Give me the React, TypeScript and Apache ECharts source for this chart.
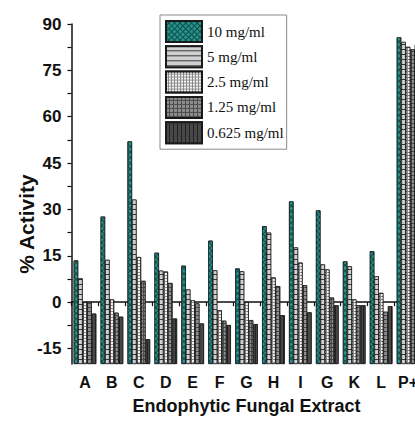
import React, { useEffect, useRef } from 'react';
import * as echarts from 'echarts';

const categories = ['A', 'B', 'C', 'D', 'E', 'F', 'G', 'H', 'I', 'G', 'K', 'L', 'P+'];
const seriesNames = ['10 mg/ml', '5 mg/ml', '2.5 mg/ml', '1.25 mg/ml', '0.625 mg/ml'];
const conc10 = [13.5, 27.7, 52.0, 16.0, 11.8, 19.9, 10.9, 24.6, 32.6, 29.7, 13.2, 16.5, 85.7];
const conc5 = [7.7, 13.7, 33.2, 10.2, 4.1, 10.3, 10.0, 22.5, 17.7, 12.2, 11.6, 8.4, 84.2];
const conc2_5 = [0.0, 0.9, 14.6, 9.9, 0.6, -2.6, 0.1, 8.0, 12.8, 10.6, 0.9, 3.0, 82.6];
const conc1_25 = [0.1, -3.4, 6.9, 6.2, -0.4, -6.0, -5.8, 5.2, 5.5, 1.5, -1.0, -3.1, 81.8];
const conc0_625 = [-3.7, -4.7, -12.0, -5.3, -6.9, -7.4, -7.1, -4.2, -3.3, -1.0, -1.0, -1.3, 83.4];
const yLabelValues = [-15, 0, 15, 30, 45, 60, 75, 90];
const yTickValues = [-15, -7.5, 0, 7.5, 15, 22.5, 30, 37.5, 45, 52.5, 60, 67.5, 75, 82.5, 90];
const AXIS_MIN = -20;
const AXIS_MAX = 90;

const allValues = [conc10, conc5, conc2_5, conc1_25, conc0_625];

const styles = [
  { color: '#0e4f4c', decal: { symbol: 'rect', symbolSize: 1, color: '#26938c', dashArrayX: [3, 1], dashArrayY: [3, 1], rotation: Math.PI / 4 } },
  { color: '#3a3a3a', decal: { symbol: 'rect', symbolSize: 1, color: '#d0d0d0', dashArrayX: [10, 0], dashArrayY: [4, 1], rotation: 0 } },
  { color: '#8c8c8c', decal: { symbol: 'rect', symbolSize: 1, color: '#f4f4f4', dashArrayX: [2, 1], dashArrayY: [2, 1], rotation: 0 } },
  { color: '#4a4a4a', decal: { symbol: 'rect', symbolSize: 1, color: '#8e8e8e', dashArrayX: [3, 1], dashArrayY: [3, 1], rotation: 0 } },
  { color: '#222222', decal: { symbol: 'rect', symbolSize: 1, color: '#474747', dashArrayX: [3, 1], dashArrayY: [10, 0], rotation: 0 } },
];

export default function App() {
  const ref = useRef<HTMLDivElement>(null);
  useEffect(() => {
    if (!ref.current) return;
    const chart = echarts.init(ref.current, null, { renderer: 'svg' });
    const series: any[] = [];
    allValues.forEach((vals, i) => {
      series.push({
        type: 'bar',
        stack: 's' + i,
        stackStrategy: 'all',
        data: categories.map(() => AXIS_MIN),
        itemStyle: { color: 'rgba(0,0,0,0)', borderWidth: 0 },
        silent: true,
        barGap: '0%',
        barCategoryGap: '16%',
      });
      series.push({
        name: seriesNames[i],
        type: 'bar',
        stack: 's' + i,
        stackStrategy: 'all',
        data: vals.map((v) => v - AXIS_MIN),
        itemStyle: {
          color: styles[i].color,
          decal: styles[i].decal,
          borderColor: '#1a1a1a',
          borderWidth: 0.7,
        },
        barGap: '0%',
        barCategoryGap: '16%',
      });
    });
    chart.setOption({
      animation: false,
      grid: { left: 71.5, width: 350, top: 24, height: 340, containLabel: false, outerBoundsMode: 'none' },
      legend: {
        data: seriesNames,
        orient: 'vertical',
        left: 160,
        top: 15,
        itemWidth: 36,
        itemHeight: 21,
        itemGap: 2.3,
        padding: [5, 3, 5, 5],
        borderColor: '#8a8a8a',
        borderWidth: 1,
        icon: 'rect',
        selectedMode: false,
        textStyle: { fontFamily: 'Liberation Serif', fontSize: 15, color: '#111' },
      },
      xAxis: {
        type: 'category',
        data: categories,
        axisLine: { show: true, lineStyle: { color: '#111', width: 1.5 } },
        axisTick: { show: true, length: 4, alignWithLabel: false, lineStyle: { color: '#111', width: 1.2 } },
        axisLabel: { interval: 0, margin: 10, fontFamily: 'Liberation Sans', fontWeight: 'bold', fontSize: 16, color: '#111' },
        name: 'Endophytic Fungal Extract',
        nameLocation: 'middle',
        nameGap: 33,
        nameTextStyle: { fontFamily: 'Liberation Sans', fontWeight: 'bold', fontSize: 18, color: '#111' },
      },
      yAxis: {
        type: 'value',
        min: AXIS_MIN,
        max: AXIS_MAX,
        splitLine: { show: false },
        axisLine: { show: true, lineStyle: { color: '#111', width: 1.5 } },
        axisTick: { show: true, length: 4, customValues: yTickValues, lineStyle: { color: '#111', width: 1.2 } },
        axisLabel: {
          customValues: yLabelValues,
          margin: 10,
          fontFamily: 'Liberation Sans',
          fontWeight: 'bold',
          fontSize: 17,
          color: '#111',
        },
      },
      graphic: [
        {
          type: 'text',
          x: 26,
          y: 224,
          rotation: Math.PI / 2,
          style: {
            text: '% Activity',
            fontFamily: 'Liberation Sans',
            fontWeight: 'bold',
            fontSize: 21,
            fill: '#111',
            textAlign: 'center',
            textVerticalAlign: 'middle',
          },
        },
      ],
      series,
    });
    return () => chart.dispose();
  }, []);
  return (
    <div
      ref={ref}
      style={{ position: 'fixed', left: 0, top: 0, width: 415, height: 421, background: '#fff' }}
    />
  );
}
